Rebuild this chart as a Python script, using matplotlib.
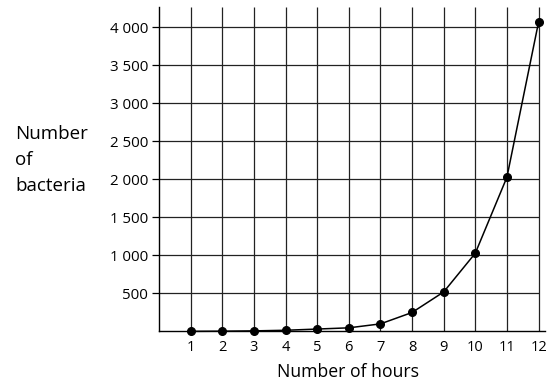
import matplotlib
matplotlib.use("Agg")
import matplotlib.pyplot as plt

hours = [1, 2, 3, 4, 5, 6, 7, 8, 9, 10, 11, 12]
bacteria = [2, 4, 8, 16, 32, 48, 100, 250, 520, 1030, 2030, 4070]
y_ticks = [500, 1000, 1500, 2000, 2500, 3000, 3500, 4000]
y_tick_labels = ["500", "1 000", "1 500", "2 000", "2 500", "3 000", "3 500", "4 000"]
x_tick_labels = [str(h) for h in hours]

plt.rcParams['font.family'] = ['Open Sans', 'DejaVu Sans']

fig = plt.figure(figsize=(5.6, 3.85), dpi=100)
ax = fig.add_axes([0.284, 0.139, 0.973 - 0.284, 0.982 - 0.139])

ymax = 4270
ax.set_xlim(0, 12.2)
ax.set_ylim(0, ymax)

# grid
ax.vlines(hours, 0, ymax, colors='#222222', linewidth=0.9, zorder=1)
ax.hlines(y_ticks, 0, 12, colors='#222222', linewidth=0.9, zorder=1)

ax.plot(hours, bacteria, color='black', linewidth=1.1, marker='o',
        markersize=5.5, zorder=3, clip_on=False)

for s in ['top', 'right']:
    ax.spines[s].set_visible(False)
for s in ['left', 'bottom']:
    ax.spines[s].set_linewidth(1.0)
    ax.spines[s].set_color('black')

ax.set_yticks(y_ticks)
ax.set_yticklabels(y_tick_labels, fontsize=10.8)
ax.set_xticks(hours)
ax.set_xticklabels(x_tick_labels, fontsize=10.5)
ax.tick_params(axis='y', length=5, width=0.9, pad=3)
ax.tick_params(axis='x', length=0, pad=6)

fig.text(15 / 560, 1 - 160 / 385, "Number\nof\nbacteria", fontsize=13.5,
         ha='left', va='center', linespacing=1.6)
fig.text(348 / 560, 1 - 372 / 385, "Number of hours", fontsize=12.7,
         ha='center', va='center')

fig.savefig("out.png", dpi=100)
